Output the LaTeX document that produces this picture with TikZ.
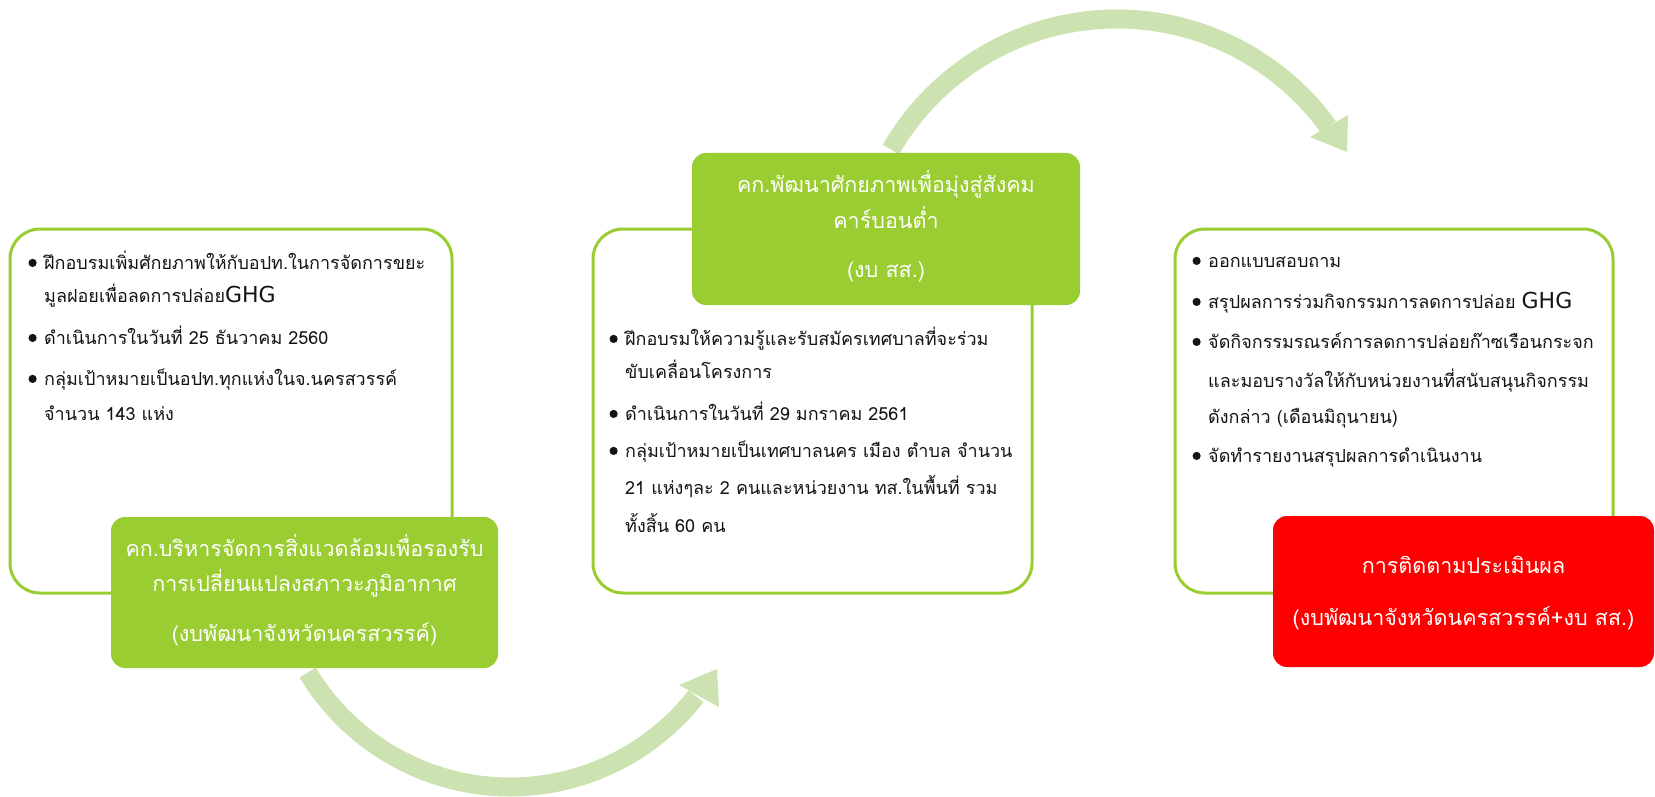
\documentclass[tikz,border=0pt]{standalone}
\usepackage{fontspec}
\newfontfamily\thai[Script=Thai]{Loma}
\newfontfamily\dvs{DejaVu Sans}
\definecolor{boxgreen}{RGB}{154,205,50}
\definecolor{arrowgreen}{RGB}{204,226,176}
\definecolor{boxred}{RGB}{255,0,0}
\definecolor{listtext}{RGB}{20,20,20}
\newcommand\bul{\makebox[0pt][r]{\raisebox{2pt}{\tikz\fill (0,0) circle (4.1pt);}\hspace{7.5pt}}}
\newcommand\ghg{{\dvs\fontsize{22}{24}\selectfont GHG}}
\tikzset{
  wbox/.style={draw=boxgreen, line width=3pt, rounded corners=30pt, fill=white, inner sep=0pt},
  gbox/.style={fill=boxgreen, rounded corners=14pt, inner sep=0pt},
  rbox/.style={fill=boxred, rounded corners=14pt, inner sep=0pt},
  ltxt/.style={anchor=base west, inner sep=0pt, font=\thai\fontsize{18}{20}\selectfont, text=listtext},
  ctxt/.style={anchor=base, inner sep=0pt, font=\thai\fontsize{21.5}{23}\selectfont, text=white},
  flow/.style={draw=arrowgreen, line width=19pt},
  flowhead/.style={fill=arrowgreen},
}
\begin{document}
\begin{tikzpicture}[x=1pt,y=-1pt]
\useasboundingbox (0,0) rectangle (1655,797);
% curved arrows
\coordinate (c1) at (510,551);
\draw[flow] (c1) ++(149:236) arc[start angle=149, end angle=38, radius=236];
\coordinate (h1a) at (679,685);
\coordinate (h1b) at (717,669);
\coordinate (h1c) at (719,707);
\fill[flowhead] (h1a) -- (h1b) -- (h1c) -- cycle;
\coordinate (c2) at (1117,280);
\draw[flow] (c2) ++(210:261) arc[start angle=210, end angle=324, radius=261];
\coordinate (h2a) at (1310,137);
\coordinate (h2b) at (1348,115);
\coordinate (h2c) at (1347,152);
\fill[flowhead] (h2a) -- (h2b) -- (h2c) -- cycle;
% white boxes
\node[wbox, minimum width=442pt, minimum height=364pt] (bL) at (231,411) {};
\node[wbox, minimum width=439pt, minimum height=364pt] (bM) at (812.5,411) {};
\node[wbox, minimum width=438pt, minimum height=364pt] (bR) at (1394,411) {};
% coloured boxes
\node[gbox, minimum width=387pt, minimum height=151pt] (gL) at (304.5,592.5) {};
\node[gbox, minimum width=388pt, minimum height=152pt] (gM) at (886,229) {};
\node[rbox, minimum width=381pt, minimum height=151pt] (rR) at (1463.5,591.5) {};
% left list
\node[ltxt] (l1) at (44,269) {\bul ฝึกอบรมเพิ่มศักยภาพให้กับอปท.ในการจัดการขยะ};
\node[ltxt] (l2) at (44,302) {มูลฝอยเพื่อลดการปล่อย\ghg};
\node[ltxt] (l3) at (44,344) {\bul ดำเนินการในวันที่ 25 ธันวาคม 2560};
\node[ltxt] (l4) at (44,385) {\bul กลุ่มเป้าหมายเป็นอปท.ทุกแห่งในจ.นครสวรรค์};
\node[ltxt] (l5) at (44,420) {จำนวน 143 แห่ง};
% middle list
\node[ltxt] (m1) at (625,345) {\bul ฝึกอบรมให้ความรู้และรับสมัครเทศบาลที่จะร่วม};
\node[ltxt] (m2) at (625,378) {ขับเคลื่อนโครงการ};
\node[ltxt] (m3) at (625,420) {\bul ดำเนินการในวันที่ 29 มกราคม 2561};
\node[ltxt] (m4) at (625,457) {\bul กลุ่มเป้าหมายเป็นเทศบาลนคร เมือง ตำบล จำนวน};
\node[ltxt] (m5) at (625,494) {21 แห่งๆละ 2 คนและหน่วยงาน ทส.ในพื้นที่ รวม};
\node[ltxt] (m6) at (625,532) {ทั้งสิ้น 60 คน};
% right list
\node[ltxt] (r1) at (1208,267) {\bul ออกแบบสอบถาม};
\node[ltxt] (r2) at (1208,308) {\bul สรุปผลการร่วมกิจกรรมการลดการปล่อย \ghg};
\node[ltxt] (r3) at (1208,348) {\bul จัดกิจกรรมรณรค์การลดการปล่อยก๊าซเรือนกระจก};
\node[ltxt] (r4) at (1208,387) {และมอบรางวัลให้กับหน่วยงานที่สนับสนุนกิจกรรม};
\node[ltxt] (r5) at (1208,423) {ดังกล่าว (เดือนมิถุนายน)};
\node[ltxt] (r6) at (1208,462) {\bul จัดทำรายงานสรุปผลการดำเนินงาน};
% box titles
\node[ctxt] (gL1) at (304.5,556) {คก.บริหารจัดการสิ่งแวดล้อมเพื่อรองรับ};
\node[ctxt] (gL2) at (304.5,591) {การเปลี่ยนแปลงสภาวะภูมิอากาศ};
\node[ctxt] (gL3) at (304.5,641) {(งบพัฒนาจังหวัดนครสวรรค์)};
\node[ctxt] (gM1) at (886,193) {คก.พัฒนาศักยภาพเพื่อมุ่งสู่สังคม};
\node[ctxt] (gM2) at (886,228) {คาร์บอนต่ำ};
\node[ctxt] (gM3) at (886,277) {(งบ สส.)};
\node[ctxt] (rR1) at (1463.5,573) {การติดตามประเมินผล};
\node[ctxt] (rR2) at (1463.5,625) {(งบพัฒนาจังหวัดนครสวรรค์+งบ สส.)};
\end{tikzpicture}
\end{document}
